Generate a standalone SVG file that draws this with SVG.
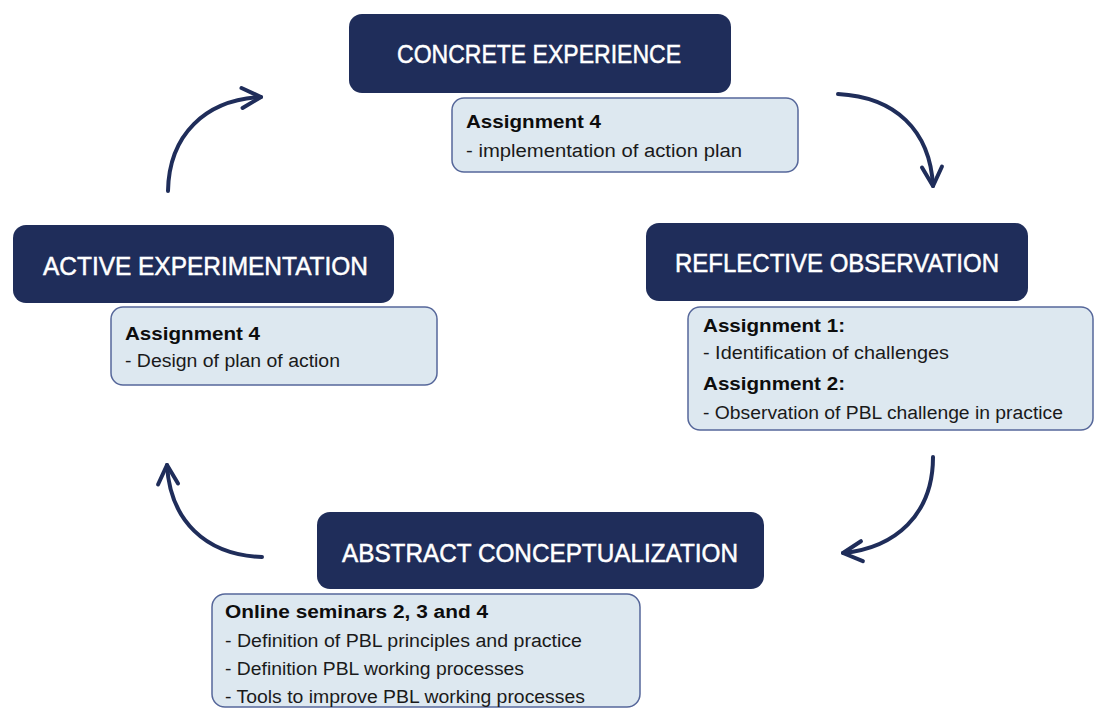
<svg xmlns="http://www.w3.org/2000/svg" width="1094" height="709" viewBox="0 0 1094 709">
<style>
.title{fill:#1f2d5a;}
.sub{fill:#dde8f0;stroke:#56679a;stroke-width:1.5;}
.tt{font-family:"Liberation Sans",Arial,sans-serif;font-size:26px;fill:#ffffff;stroke:#ffffff;stroke-width:0.5;}
.bt{font-family:"Liberation Sans",Arial,sans-serif;font-size:18px;font-weight:bold;fill:#0d0d0d;}
.nt{font-family:"Liberation Sans",Arial,sans-serif;font-size:18px;fill:#1a1a1a;}
.arc{fill:none;stroke:#1f2d5a;stroke-width:4;stroke-linecap:round;}
</style>
<defs>
<marker id="arr" markerUnits="userSpaceOnUse" markerWidth="40" markerHeight="40" refX="0" refY="0" orient="auto" overflow="visible">
<path d="M-19,-10 L0,0 L-19,10" fill="none" stroke="#1f2d5a" stroke-width="4" stroke-linecap="round" stroke-linejoin="round"/>
</marker>
</defs>
<rect width="1094" height="709" fill="#ffffff"/>
<g id="connectors">
<path class="arc" d="M168,191 C169,135 205,100 261,97" marker-end="url(#arr)"/>
<path class="arc" d="M838,94 C895,97 930,130 933,186" marker-end="url(#arr)"/>
<path class="arc" d="M933,457 C933,515 895,548 843,553" marker-end="url(#arr)"/>
<path class="arc" d="M262,557 C205,555 170,520 167,465" marker-end="url(#arr)"/>
</g>
<g id="concrete-experience">
<rect class="title" x="349" y="14" width="382" height="79" rx="13"/>
<text class="tt" x="397" y="63" textLength="284" lengthAdjust="spacingAndGlyphs">CONCRETE EXPERIENCE</text>
</g>
<g id="concrete-experience-details">
<rect class="sub" x="452" y="98" width="346" height="74" rx="12"/>
<text class="bt" x="466" y="128" textLength="135" lengthAdjust="spacingAndGlyphs">Assignment 4</text>
<text class="nt" x="466" y="157" textLength="276" lengthAdjust="spacingAndGlyphs">- implementation of action plan</text>
</g>
<g id="reflective-observation">
<rect class="title" x="646" y="223" width="382" height="78" rx="13"/>
<text class="tt" x="675" y="272" textLength="324" lengthAdjust="spacingAndGlyphs">REFLECTIVE OBSERVATION</text>
</g>
<g id="reflective-observation-details">
<rect class="sub" x="688" y="307" width="405" height="123" rx="12"/>
<text class="bt" x="703" y="332" textLength="142" lengthAdjust="spacingAndGlyphs">Assignment 1:</text>
<text class="nt" x="703" y="359" textLength="246" lengthAdjust="spacingAndGlyphs">- Identification of challenges</text>
<text class="bt" x="703" y="390" textLength="142" lengthAdjust="spacingAndGlyphs">Assignment 2:</text>
<text class="nt" x="703" y="419" textLength="360" lengthAdjust="spacingAndGlyphs">- Observation of PBL challenge in practice</text>
</g>
<g id="active-experimentation">
<rect class="title" x="13" y="225" width="381" height="78" rx="13"/>
<text class="tt" x="43" y="275" textLength="325" lengthAdjust="spacingAndGlyphs">ACTIVE EXPERIMENTATION</text>
</g>
<g id="active-experimentation-details">
<rect class="sub" x="111" y="307" width="326" height="78" rx="12"/>
<text class="bt" x="125" y="340" textLength="135" lengthAdjust="spacingAndGlyphs">Assignment 4</text>
<text class="nt" x="125" y="367" textLength="215" lengthAdjust="spacingAndGlyphs">- Design of plan of action</text>
</g>
<g id="abstract-conceptualization">
<rect class="title" x="317" y="512" width="447" height="77" rx="13"/>
<text class="tt" x="342" y="562" textLength="396" lengthAdjust="spacingAndGlyphs">ABSTRACT CONCEPTUALIZATION</text>
</g>
<g id="abstract-conceptualization-details">
<rect class="sub" x="212" y="594" width="428" height="113" rx="13"/>
<text class="bt" x="225" y="618" textLength="263" lengthAdjust="spacingAndGlyphs">Online seminars 2, 3 and 4</text>
<text class="nt" x="225" y="647" textLength="357" lengthAdjust="spacingAndGlyphs">- Definition of PBL principles and practice</text>
<text class="nt" x="225" y="675" textLength="299" lengthAdjust="spacingAndGlyphs">- Definition PBL working processes</text>
<text class="nt" x="225" y="703" textLength="360" lengthAdjust="spacingAndGlyphs">- Tools to improve PBL working processes</text>
</g>
</svg>
